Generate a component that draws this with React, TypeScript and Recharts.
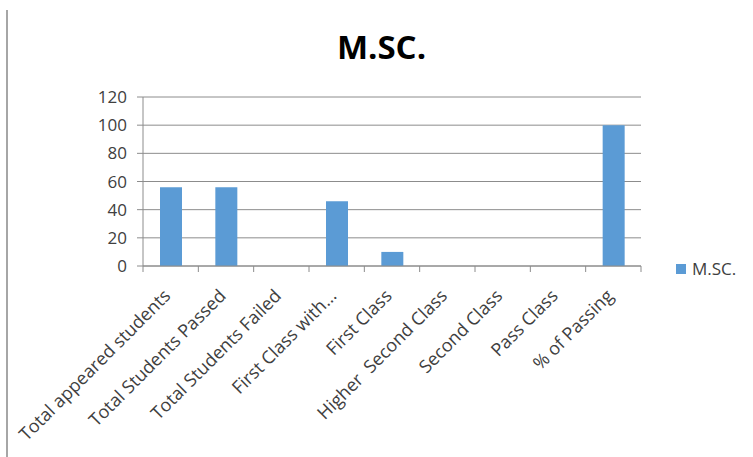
import React from 'react';
import { BarChart, Bar, XAxis, YAxis, CartesianGrid } from 'recharts';

const categories = [
  'Total appeared students',
  'Total Students Passed',
  'Total Students Failed',
  'First Class with...',
  'First Class',
  'Higher  Second Class',
  'Second Class',
  'Pass Class',
  '% of Passing',
];
const mscValues = [56, 56, 0, 46, 10, 0, 0, 0, 100];
const yTicks = [0, 20, 40, 60, 80, 100, 120];

const data = categories.map((name, i) => ({ name, msc: mscValues[i] }));

const W = 753;
const H = 457;
const PLOT_LEFT = 143;
const PLOT_RIGHT = 641;
const PLOT_TOP = 97;
const PLOT_BOTTOM = 266;
const BAND = (PLOT_RIGHT - PLOT_LEFT) / categories.length;

const BLUE = '#5B9BD5';
const GRID = '#8c8c8c';
const TEXT = '#404040';
const FONT = '"Open Sans", sans-serif';

const CategoryTick = ({ x, y, payload, index }: any) => {
  const half = BAND / 2;
  return (
    <g>
      <line x1={x - half} x2={x - half} y1={y - 8} y2={y - 2} stroke={GRID} />
      {index === categories.length - 1 && (
        <line x1={x + half} x2={x + half} y1={y - 8} y2={y - 2} stroke={GRID} />
      )}
      <text
        transform={`translate(${x + 1},${y + 23}) rotate(-45)`}
        textAnchor="end"
        fill={TEXT}
        fontSize={18}
        fontFamily={FONT}
        style={{ whiteSpace: 'pre' }}
      >
        {payload.value}
      </text>
    </g>
  );
};

export default function App() {
  return (
    <div style={{ position: 'absolute', left: 0, top: 0, width: W, height: H, background: '#fff' }}>
      <div style={{ position: 'absolute', left: 6, top: 10, width: 2, height: H - 10, background: '#a6a6a6' }} />
      <div
        style={{
          position: 'absolute',
          left: 0,
          width: W,
          top: 27,
          textAlign: 'center',
          paddingLeft: 10,
          boxSizing: 'border-box',
          fontFamily: FONT,
          fontWeight: 700,
          fontSize: 33,
          color: '#000',
          lineHeight: '40px',
        }}
      >
        M.SC.
      </div>
      <BarChart
        width={W}
        height={H}
        data={data}
        margin={{ top: PLOT_TOP, right: W - PLOT_RIGHT, bottom: 0, left: 0 }}
      >
        <CartesianGrid vertical={false} stroke={GRID} />
        <XAxis
          dataKey="name"
          height={H - PLOT_BOTTOM}
          interval={0}
          tick={<CategoryTick />}
          tickLine={false}
          axisLine={{ stroke: GRID }}
        />
        <YAxis
          width={PLOT_LEFT}
          domain={[0, 120]}
          ticks={yTicks}
          tickSize={6}
          tickMargin={10}
          tickLine={{ stroke: GRID }}
          axisLine={{ stroke: GRID }}
          tick={{ fill: TEXT, fontSize: 17, fontFamily: FONT }}
        />
        <Bar dataKey="msc" name="M.SC." fill={BLUE} barSize={22} isAnimationActive={false} />
      </BarChart>
      <div
        style={{
          position: 'absolute',
          left: 676,
          top: 257,
          display: 'flex',
          alignItems: 'center',
          fontFamily: FONT,
          fontSize: 17,
          color: TEXT,
        }}
      >
        <span style={{ width: 10, height: 10, background: BLUE, display: 'inline-block', marginRight: 6 }} />
        M.SC.
      </div>
    </div>
  );
}
